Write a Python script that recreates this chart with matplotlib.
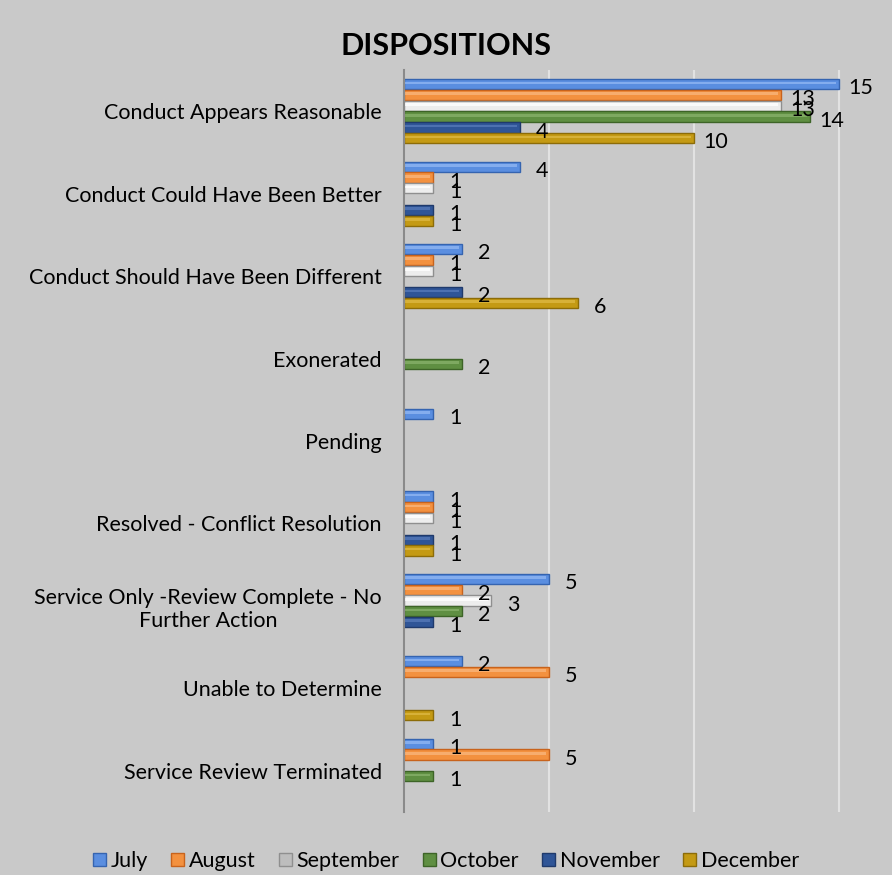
import numpy as np
import matplotlib
matplotlib.use("Agg")
import matplotlib.pyplot as plt
from matplotlib.patches import Patch

plt.rcParams['font.family'] = ['Lato', 'DejaVu Sans']

# category labels, top to bottom
categories = [
    "Conduct Appears Reasonable",
    "Conduct Could Have Been Better",
    "Conduct Should Have Been Different",
    "Exonerated",
    "Pending",
    "Resolved - Conflict Resolution",
    "Service Only -Review Complete - No\nFurther Action",
    "Unable to Determine",
    "Service Review Terminated",
]
months = ["July", "August", "September", "October", "November", "December"]

# counts per month (0 = no bar, no label)
july = [15, 4, 2, 0, 1, 1, 5, 2, 1]
august = [13, 1, 1, 0, 0, 1, 2, 5, 5]
september = [13, 1, 1, 0, 0, 1, 3, 0, 0]
october = [14, 0, 0, 2, 0, 0, 2, 0, 1]
november = [4, 1, 2, 0, 0, 1, 1, 0, 0]
december = [10, 1, 6, 0, 0, 1, 0, 1, 0]
series = [july, august, september, october, november, december]

colors = ["#5a8ee0", "#f3913f", "#ededed", "#5f8f42", "#2f5597", "#c49a14"]
edges = ["#3564b0", "#c8631c", "#8f8f8f", "#3d6427", "#1f3a6c", "#8c6c08"]
shine = ["#8fb6f2", "#f9b57a", "#ffffff", "#86b06a", "#5579b8", "#dcb842"]

bg = "#c9c9c9"
fig = plt.figure(figsize=(8.92, 8.75), dpi=100, facecolor=bg)
ax = fig.add_axes([0.4529, 0.072, 0.52, 0.848], facecolor=bg)

y = np.arange(len(categories))
h = 0.131
for i, (vals, c, e, s) in enumerate(zip(series, colors, edges, shine)):
    pos = y + (i - 2.5) * h
    vals = np.array(vals)
    m = vals > 0
    ax.barh(pos[m], vals[m], height=h * 0.95, color=c, edgecolor=e, linewidth=1.0, zorder=3)
    # highlight stripe for the bevelled look
    ax.barh(pos[m] - h * 0.12, vals[m] - 0.12, height=h * 0.25, left=0.03, color=s,
            linewidth=0, alpha=0.8, zorder=4)
    for p, v in zip(pos[m], vals[m]):
        ax.annotate(str(v), (v, p), xytext=(16, -3), textcoords="offset points",
                    ha="center", va="center", fontsize=15.5, color="black", zorder=5)

ax.set_xlim(0, 16)
ax.set_ylim(len(categories) - 0.5, -0.5)
ax.set_yticks(y)
ax.set_yticklabels(categories, fontsize=15.5, ha="right", multialignment="center")
ax.tick_params(axis="y", length=0, pad=16)
ax.set_xticks([0, 5, 10, 15])
ax.tick_params(axis="x", length=0, labelbottom=False)
ax.xaxis.grid(True, color="#e2e2e2", linewidth=1.5, zorder=0)
ax.set_axisbelow(True)
for s in ["top", "right", "bottom"]:
    ax.spines[s].set_visible(False)
ax.spines["left"].set_color("#8a8a8a")
ax.spines["left"].set_linewidth(1.5)
ax.spines["left"].set_zorder(6)

fig.text(0.5, 0.947, "DISPOSITIONS", ha="center", va="center", fontsize=22, fontweight="bold")

handles = [Patch(facecolor=c, edgecolor=e) for c, e in zip(colors, edges)]
handles[2] = Patch(facecolor="#bdbdbd", edgecolor="#8f8f8f")
fig.legend(handles, months, loc="center", bbox_to_anchor=(0.5, 0.016), ncol=6, frameon=False,
           fontsize=15.5, handlelength=0.6, handleheight=0.6, handletextpad=0.2, columnspacing=1.1)

fig.savefig("out.png", dpi=100, facecolor=bg)
